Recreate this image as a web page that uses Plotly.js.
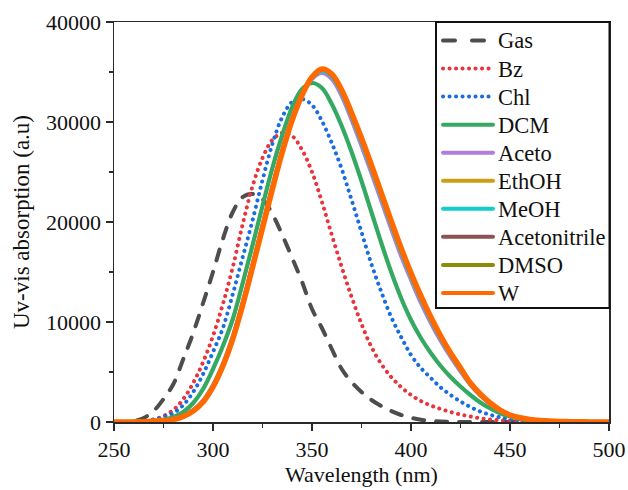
<!DOCTYPE html>
<html>
<head>
<meta charset="utf-8">
<script src="https://cdn.plot.ly/plotly-3.0.1.min.js"></script>
<style>html,body{margin:0;padding:0;background:#fff;}</style>
</head>
<body>
<div id="chart" style="width:628px;height:490px;"></div>
<script>
// Wavelength grid (nm)
const wavelength = [250,255,260,265,270,275,280,285,290,295,300,305,310,315,320,325,330,335,340,345,350,355,360,365,370,375,380,385,390,395,400,405,410,415,420,425,430,435,440,445,450,455,460,465,470,475,480,485,490,495,500];

const seriesNames = ["Gas","Bz","Chl","DCM","Aceto","EthOH","MeOH","Acetonitrile","DMSO","W"];

const gas = [0,0,80,400,1100,2300,3800,6300,8900,11900,15000,18300,21000,22500,22800,22300,20800,18700,16400,14000,11300,9400,7300,5300,4000,3000,2200,1600,1100,700,420,230,110,50,20,5,0,0,0,0,0,0,0,0,0,0,0,0,0,0,0];
const bz = [0,5,20,80,250,600,1200,2300,3900,6000,8600,11800,15500,19800,23600,26400,28200,28900,28600,27200,25000,22000,18700,15500,12500,9800,7500,5800,4500,3500,2700,2100,1650,1300,1000,750,550,380,250,160,100,60,35,20,10,5,3,1,0,0,0];
const chl = [0,5,30,100,250,500,900,1700,3000,4800,7000,9400,12800,16500,20200,24200,27800,30500,32000,32300,31700,30100,27900,25300,22200,19000,15800,13000,10500,8500,6700,5400,4400,3450,2700,2050,1500,1050,720,470,300,180,105,60,35,20,12,6,3,1,0];
const dcm = [0,0,15,45,110,220,500,1000,1900,3300,5300,7600,10300,13900,17700,21600,25400,28700,31500,33300,33900,33400,31800,29600,27000,24100,21000,17900,15000,12400,10200,8400,6900,5600,4500,3550,2700,1950,1350,880,560,340,200,120,70,40,25,12,6,3,1];
const aceto = [0,0,10,35,80,160,280,600,1200,2150,3700,5850,8600,12000,15800,19700,23600,27200,30300,32700,34300,34900,34300,32600,30200,27600,24900,22100,19300,16600,14200,11900,9900,8100,6500,5050,3700,2650,1800,1130,660,400,240,140,85,50,30,18,9,4,2];
const ethoh = [0,0,10,30,75,150,265,570,1150,2080,3600,5700,8450,11850,15650,19550,23450,27100,30250,32700,34400,35150,34600,32950,30600,28050,25350,22550,19750,17050,14600,12300,10250,8400,6750,5250,3800,2720,1840,1160,680,410,245,145,88,52,32,19,9,4,2];
const meoh = [0,0,10,30,75,150,265,575,1160,2090,3620,5720,8470,11870,15670,19570,23470,27100,30250,32700,34380,35100,34550,32900,30550,28000,25300,22500,19700,17000,14550,12250,10200,8350,6700,5200,3780,2710,1830,1150,675,408,243,144,87,52,32,19,9,4,2];
const acetonitrile = [0,0,10,30,72,145,258,560,1120,2040,3550,5650,8380,11780,15580,19480,23380,27050,30220,32700,34450,35250,34700,33080,30750,28250,25550,22750,19950,17250,14750,12450,10380,8500,6820,5330,3850,2760,1870,1180,690,415,247,147,89,54,34,20,10,5,2];
const dmso = [0,0,10,30,70,142,254,555,1110,2020,3520,5620,8340,11740,15540,19440,23340,27020,30210,32700,34480,35280,34750,33150,30850,28350,25650,22850,20050,17350,14850,12550,10450,8550,6870,5370,3880,2780,1885,1190,695,418,248,148,90,54,34,20,10,5,2];
const w = [0,0,10,30,70,140,250,550,1100,2000,3500,5600,8300,11700,15500,19400,23300,27000,30200,32700,34500,35300,34800,33200,30900,28400,25700,22900,20100,17400,14900,12600,10500,8600,6900,5400,3900,2800,1900,1200,700,420,250,150,90,55,35,20,10,5,2];

const seriesValues = [gas,bz,chl,dcm,aceto,ethoh,meoh,acetonitrile,dmso,w];
const seriesColors = ["#4d4d4d","#e8343c","#1a6de0","#35a862","#b07ddc","#cc9e12","#14cccc","#8a5252","#8c8c0a","#ff6a00"];
const seriesWidths = [4,4,4,4.2,4,4,4,4,4,5.5];
const seriesDash = ["dash","dot","dot","solid","solid","solid","solid","solid","solid","solid"];

const traces = seriesNames.map((n,i)=>({
  type:"scatter", mode:"lines", name:n,
  x:wavelength, y:seriesValues[i],
  line:{color:seriesColors[i], width:seriesWidths[i], dash:seriesDash[i], shape:"spline", smoothing:1},
  hoverinfo:"skip", showlegend:false
}));

const serif = '"Liberation Serif", "Times New Roman", Times, serif';
const axisCommon = {
  showline:true, linecolor:"#2a2a2a", linewidth:1.5, mirror:true,
  ticks:"outside", ticklen:7, tickwidth:1.5, tickcolor:"#2a2a2a",
  showgrid:false, zeroline:false,
  tickfont:{family:serif, size:22, color:"#111"}
};

// Legend box drawn in paper coordinates (plot area: 495 x 400 px)
const L = {left:436, top:22, right:609.5, bottom:308, first:40.5, step:28.05, lineX0:443, lineX1:493, textX:496};
const px2x = p => (p-114)/495;
const px2y = p => (422-p)/400;
const shapes = [{
  type:"rect", xref:"paper", yref:"paper", layer:"above",
  x0:px2x(L.left), x1:px2x(L.right), y0:px2y(L.bottom), y1:px2y(L.top),
  line:{color:"#111", width:2}, fillcolor:"#ffffff"
}];
const annotations = [];
seriesNames.forEach((n,i)=>{
  const yc = L.first + i*L.step;
  shapes.push({
    type:"line", xref:"paper", yref:"paper", layer:"above",
    x0:px2x(L.lineX0), x1:px2x(L.lineX1), y0:px2y(yc), y1:px2y(yc),
    line:{color:seriesColors[i], width:4, dash:seriesDash[i]}
  });
  annotations.push({
    xref:"paper", yref:"paper", x:px2x(L.textX), y:px2y(yc+0.5),
    xanchor:"left", yanchor:"middle", showarrow:false, text:n,
    font:{family:serif, size:22.5, color:"#111"}
  });
});

const layout = {
  width:628, height:490,
  margin:{l:114, r:19, t:22, b:68},
  paper_bgcolor:"#ffffff", plot_bgcolor:"#ffffff",
  font:{family:serif, size:21, color:"#111"},
  showlegend:false,
  xaxis:Object.assign({}, axisCommon, {
    range:[250,500], tick0:250, dtick:50,
    minor:{dtick:25, ticks:"outside", ticklen:4, tickwidth:1.5, tickcolor:"#2a2a2a", showgrid:false},
    title:{text:"Wavelength (nm)", font:{family:serif, size:22, color:"#111"}, standoff:0}
  }),
  yaxis:Object.assign({}, axisCommon, {
    range:[0,40000], tick0:0, dtick:10000, tickformat:"d",
    minor:{dtick:5000, ticks:"outside", ticklen:4, tickwidth:1.5, tickcolor:"#2a2a2a", showgrid:false},
    title:{text:"Uv-vis absorption (a.u)", font:{family:serif, size:23, color:"#111"}, standoff:10}
  }),
  shapes:shapes,
  annotations:annotations
};

Plotly.newPlot("chart", traces, layout, {displayModeBar:false, staticPlot:true}).then(gd=>{
  const fix = (p, idx, inLegend) => {
    p.style.strokeLinecap = "round";
    if (seriesDash[idx]==="dot") p.style.strokeDasharray = "0.1px,6.4px";
    if (seriesDash[idx]==="dash") p.style.strokeDasharray = inLegend ? "12px,17px" : "11px,12px";
  };
  gd.querySelectorAll(".scatterlayer .trace").forEach((t,i)=>t.querySelectorAll("path.js-line").forEach(p=>fix(p,i,false)));
  const sp = gd.querySelectorAll(".layer-above .shapelayer path");
  sp.forEach((p,k)=>{ if(k>0) fix(p,k-1,true); });
});
</script>
</body>
</html>
